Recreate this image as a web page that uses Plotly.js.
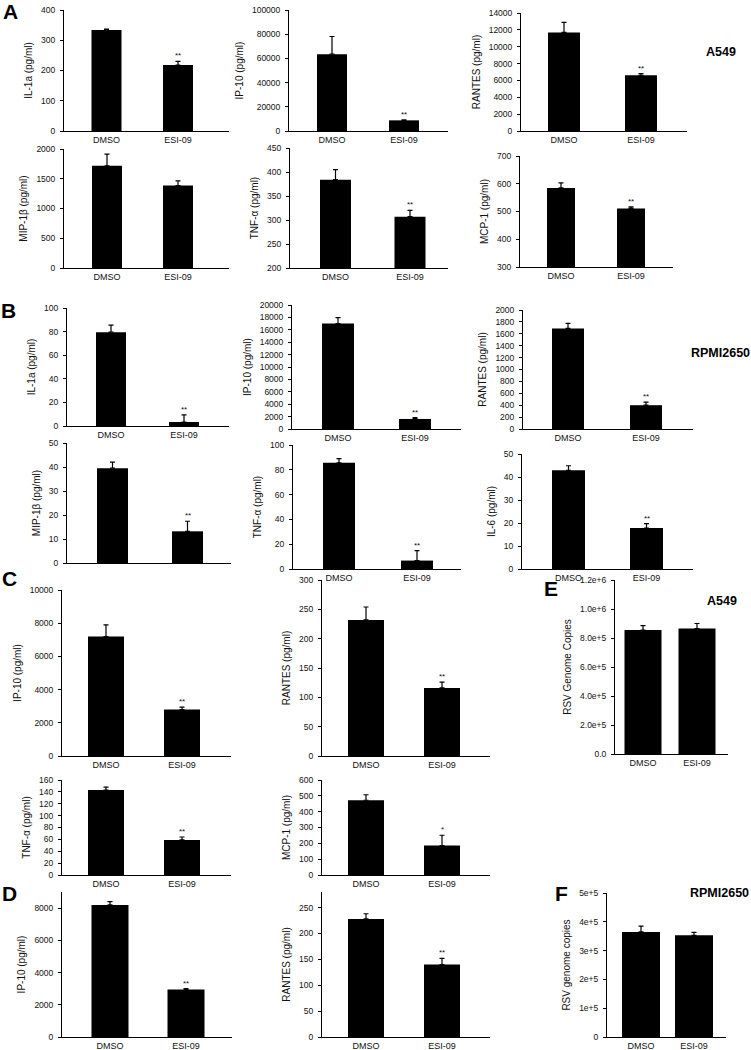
<!DOCTYPE html>
<html>
<head>
<meta charset="utf-8">
<script src="https://cdn.plot.ly/plotly-3.0.1.min.js"></script>
<style>
  body { margin: 0; background: #fff; }
  #plot { width: 751px; height: 1050px; }
</style>
</head>
<body>
<div id="plot"></div>
<script>
var groups = ["DMSO", "ESI-09"];

// A: A549 cytokines
var aIl1a = [334, 218], aIl1aErr = [3, 12];
var aIp10 = [63500, 8800], aIp10Err = [14600, 500];
var aRantes = [11700, 6620], aRantesErr = [1190, 200];
var aMip1b = [1718, 1386], aMip1bErr = [197, 79];
var aTnfa = [384, 307], aTnfaErr = [21, 13];
var aMcp1 = [585, 511], aMcp1Err = [18, 6];

// B: RPMI2650 cytokines
var bIl1a = [79.5, 3.4], bIl1aErr = [6, 6];
var bIp10 = [17000, 1620], bIp10Err = [960, 200];
var bRantes = [1690, 400], bRantesErr = [85, 50];
var bMip1b = [39.5, 13.2], bMip1bErr = [2.5, 4.2];
var bTnfa = [85.7, 6.8], bTnfaErr = [3.3, 8];
var bIl6 = [42.9, 17.8], bIl6Err = [2, 1.9];

// C: A549, E: RSV copies
var cIp10 = [7200, 2800], cIp10Err = [700, 150];
var cRantes = [232, 116], cRantesErr = [22, 10];
var cTnfa = [143, 59], cTnfaErr = [5, 5];
var cMcp1 = [472, 186], cMcp1Err = [35, 65];
var eRsv = [855000, 865000], eRsvErr = [30000, 35000];

// D: RPMI2650, F: RSV copies
var dIp10 = [8200, 2950], dIp10Err = [200, 50];
var dRantes = [228, 140], dRantesErr = [10, 12];
var fRsv = [365000, 353000], fRsvErr = [20000, 10000];

var noSig = ["", ""], twoStar = ["", "**"], oneStar = ["", "*"];

// tick labels for the RSV panels
var eTickVals = [0, 200000, 400000, 600000, 800000, 1000000, 1200000];
var eTickText = ["0.0", "2.0e+5", "4.0e+5", "6.0e+5", "8.0e+5", "1.0e+6", "1.2e+6"];
var fTickVals = [0, 100000, 200000, 300000, 400000, 500000];
var fTickText = ["0", "1e+5", "2e+5", "3e+5", "4e+5", "5e+5"];

var W = 751, H = 1050;
var font = "Liberation Sans, Arial, sans-serif";
var ink = "#111";

// panel boxes in page pixels: x = axis left/right, y = top/bottom of range, c = bar centres
var panels = [
  {v: aIl1a, e: aIl1aErr, s: twoStar, t: "IL-1a (pg/ml)", x: [64, 229], y: [10, 131], c: [106.5, 178], bw: 30, r: [0, 400], d: 100},
  {v: aIp10, e: aIp10Err, s: twoStar, t: "IP-10 (pg/ml)", x: [289, 448], y: [10, 131], c: [332, 404], bw: 30, r: [0, 100000], d: 20000},
  {v: aRantes, e: aRantesErr, s: twoStar, t: "RANTES (pg/ml)", x: [521, 687], y: [13, 131], c: [564, 641], bw: 32, r: [0, 14000], d: 2000},
  {v: aMip1b, e: aMip1bErr, s: noSig, t: "MIP-1β (pg/ml)", x: [64, 229], y: [149, 268], c: [107, 178], bw: 30, r: [0, 2000], d: 500},
  {v: aTnfa, e: aTnfaErr, s: twoStar, t: "TNF-α (pg/ml)", x: [290, 448], y: [148, 268], c: [335.5, 410], bw: 31, r: [200, 450], d: 50},
  {v: aMcp1, e: aMcp1Err, s: twoStar, t: "MCP-1 (pg/ml)", x: [520, 673], y: [156, 267], c: [561, 631], bw: 28, r: [300, 700], d: 100},

  {v: bIl1a, e: bIl1aErr, s: twoStar, t: "IL-1a (pg/ml)", x: [67, 229], y: [308, 426], c: [111, 184], bw: 30, r: [0, 100], d: 20},
  {v: bIp10, e: bIp10Err, s: twoStar, t: "IP-10 (pg/ml)", x: [292, 461], y: [305, 429], c: [338, 415], bw: 32, r: [0, 20000], d: 2000},
  {v: bRantes, e: bRantesErr, s: twoStar, t: "RANTES (pg/ml)", x: [523, 693], y: [310, 429], c: [568, 646], bw: 32, r: [0, 2000], d: 200},
  {v: bMip1b, e: bMip1bErr, s: twoStar, t: "MIP-1β (pg/ml)", x: [67, 231], y: [443, 563], c: [112.5, 187.5], bw: 31, r: [0, 50], d: 10, hideX: true},
  {v: bTnfa, e: bTnfaErr, s: twoStar, t: "TNF-α (pg/ml)", x: [293, 461], y: [445, 569], c: [339, 417], bw: 32, r: [0, 100], d: 20},
  {v: bIl6, e: bIl6Err, s: twoStar, t: "IL-6 (pg/ml)", x: [522, 693], y: [454, 569], c: [568.5, 646.5], bw: 33, r: [0, 50], d: 10},

  {v: cIp10, e: cIp10Err, s: twoStar, t: "IP-10 (pg/ml)", x: [62, 231], y: [590, 756], c: [106, 182], bw: 36, r: [0, 10000], d: 2000},
  {v: cRantes, e: cRantesErr, s: twoStar, t: "RANTES (pg/ml)", x: [322, 490], y: [580, 756], c: [366, 442], bw: 36, r: [0, 300], d: 50},
  {v: eRsv, e: eRsvErr, s: noSig, t: "RSV Genome Copies", x: [615, 728], y: [580, 754], c: [643, 697], bw: 37, r: [0, 1200000], tv: eTickVals, tt: eTickText},
  {v: cTnfa, e: cTnfaErr, s: twoStar, t: "TNF-α (pg/ml)", x: [62, 231], y: [780, 875], c: [106, 182], bw: 36, r: [0, 160], d: 20},
  {v: cMcp1, e: cMcp1Err, s: oneStar, t: "MCP-1 (pg/ml)", x: [322, 490], y: [780, 875], c: [366, 442], bw: 36, r: [0, 600], d: 100},

  {v: dIp10, e: dIp10Err, s: twoStar, t: "IP-10 (pg/ml)", x: [62, 232], y: [892, 1037], c: [110, 186], bw: 37, r: [0, 9000], d: 2000},
  {v: dRantes, e: dRantesErr, s: twoStar, t: "RANTES (pg/ml)", x: [322, 490], y: [892, 1037], c: [366, 442], bw: 36, r: [0, 280], d: 50},
  {v: fRsv, e: fRsvErr, s: noSig, t: "RSV genome copies", x: [607, 726], y: [893, 1037], c: [641, 694], bw: 38, r: [0, 500000], tv: fTickVals, tt: fTickText}
];

var traces = [];
var annotations = [];
var layout = {
  width: W,
  height: H,
  margin: {l: 0, r: 0, t: 0, b: 0},
  showlegend: false,
  paper_bgcolor: "#fff",
  plot_bgcolor: "rgba(0,0,0,0)",
  font: {family: font, color: ink}
};

panels.forEach(function(p, i) {
  var id = i === 0 ? "" : String(i + 1);
  var u = p.c[1] - p.c[0];

  layout["xaxis" + id] = {
    domain: [p.x[0] / W, p.x[1] / W],
    anchor: "y" + id,
    type: "category",
    range: [-(p.c[0] - p.x[0]) / u, 1 + (p.x[1] - p.c[1]) / u],
    showline: true, linecolor: "#000", linewidth: 1,
    ticks: "", showgrid: false, zeroline: false,
    showticklabels: !p.hideX,
    tickfont: {size: 9, family: font, color: ink},
    fixedrange: true
  };

  var ya = {
    domain: [1 - p.y[1] / H, 1 - p.y[0] / H],
    anchor: "x" + id,
    range: p.r,
    showline: true, linecolor: "#000", linewidth: 1,
    ticks: "outside", ticklen: 3, tickwidth: 1, tickcolor: "#000",
    ticklabelstandoff: 3,
    showgrid: false, zeroline: false,
    tickfont: {size: 8.5, family: font, color: ink},
    title: {text: p.t, standoff: 6, font: {size: 10, family: font, color: ink}},
    fixedrange: true
  };
  if (p.tv) {
    ya.tickmode = "array";
    ya.tickvals = p.tv;
    ya.ticktext = p.tt;
  } else {
    ya.tick0 = 0;
    ya.dtick = p.d;
    ya.tickformat = "d";
  }
  layout["yaxis" + id] = ya;

  traces.push({
    type: "bar",
    x: groups,
    y: p.v,
    xaxis: "x" + id,
    yaxis: "y" + id,
    width: p.bw / u,
    marker: {color: "#000", line: {width: 0}},
    error_y: {type: "data", symmetric: false, array: p.e, arrayminus: [0, 0],
              color: "#000", thickness: 1.2, width: 2.5},
    hoverinfo: "x+y"
  });

  // significance marks
  p.s.forEach(function(mark, k) {
    if (!mark) return;
    annotations.push({
      xref: "x" + id, yref: "y" + id,
      x: groups[k], y: p.v[k] + p.e[k],
      text: mark, showarrow: false,
      yanchor: "bottom", yshift: -1,
      font: {size: 8, family: font, color: ink}
    });
  });
});

// panel letters and cell line labels
var letters = ["A", "B", "C", "D", "E", "F"];
var letterPos = [[10, 11], [8, 310], [9, 578], [9, 893], [551, 588], [561, 893]];
letters.forEach(function(l, i) {
  annotations.push({
    xref: "paper", yref: "paper",
    x: letterPos[i][0] / W, y: 1 - letterPos[i][1] / H,
    text: "<b>" + l + "</b>", showarrow: false,
    xanchor: "center", yanchor: "middle",
    font: {size: 21, family: font, color: "#000"}
  });
});

var cellLines = ["A549", "RPMI2650", "A549", "RPMI2650"];
var cellPos = [[721, 52], [720, 353], [722, 601], [719, 893]];
cellLines.forEach(function(c, i) {
  annotations.push({
    xref: "paper", yref: "paper",
    x: cellPos[i][0] / W, y: 1 - cellPos[i][1] / H,
    text: "<b>" + c + "</b>", showarrow: false,
    xanchor: "center", yanchor: "middle",
    font: {size: 12.5, family: font, color: "#000"}
  });
});

layout.annotations = annotations;

Plotly.newPlot("plot", traces, layout, {staticPlot: true, displayModeBar: false});
</script>
</body>
</html>
